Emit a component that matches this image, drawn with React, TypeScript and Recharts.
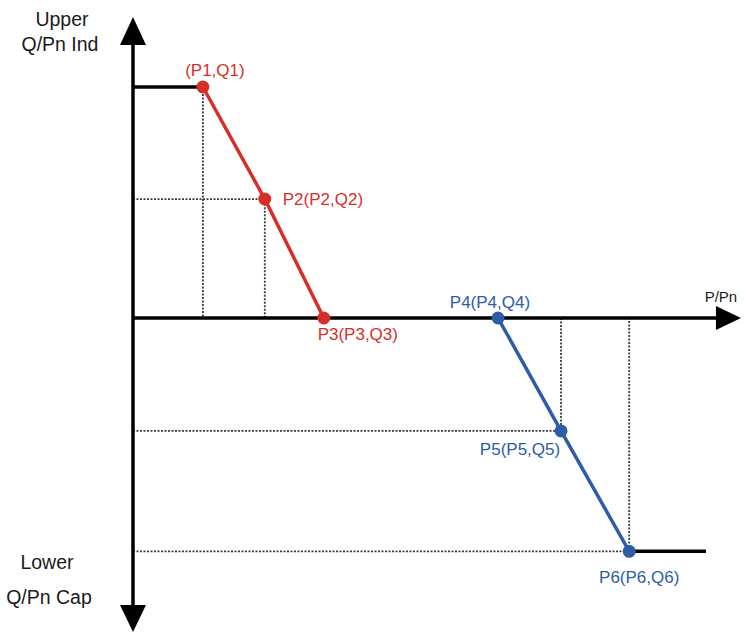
import React from 'react';
import { LineChart, Line, XAxis, YAxis, ReferenceDot } from 'recharts';

const W = 748;
const H = 634;
const FONT = '"Liberation Sans", Arial, Helvetica, sans-serif';

// P/Pn (% of Pn) and Q/Pn (%)
const redP = [12.2, 23.0, 33.3];
const redQ = [100, 51.5, 0];
const redLabels = ['(P1,Q1)', 'P2(P2,Q2)', 'P3(P3,Q3)'];
const blueP = [63.7, 74.7, 86.6];
const blueQ = [0, -48.9, -101];
const blueLabels = ['P4(P4,Q4)', 'P5(P5,Q5)', 'P6(P6,Q6)'];
const limitP = [0, 100]; // start of upper limit line, end of lower limit line
const axisP = [0, 106.1]; // origin, P axis arrow tip
const axisQ = [130.3, -135.9]; // Q axis arrow tips (upper, lower)

const X_DOMAIN = [-23.21, 107.33];
const Y_DOMAIN = [-136.8, 137.66];

const RED = '#d62f29';
const BLUE = '#2e5ca6';
const DOT_GREY = '#3a3a3a';

const redData = redP.map((p, i) => ({ p, q: redQ[i], label: redLabels[i] }));
const blueData = blueP.map((p, i) => ({ p, q: blueQ[i], label: blueLabels[i] }));

const dotted1 = [
  { p: redP[0], q: redQ[0] },
  { p: redP[0], q: 0 },
];
const dotted2 = [
  { p: 0, q: redQ[1] },
  { p: redP[1], q: redQ[1] },
  { p: redP[1], q: 0 },
];
const dotted3 = [
  { p: 0, q: blueQ[1] },
  { p: blueP[1], q: blueQ[1] },
  { p: blueP[1], q: 0 },
];
const dotted4 = [
  { p: 0, q: blueQ[2] },
  { p: blueP[2], q: blueQ[2] },
  { p: blueP[2], q: 0 },
];
const upperLimit = [
  { p: limitP[0], q: redQ[0] },
  { p: redP[0], q: redQ[0] },
];
const lowerLimit = [
  { p: blueP[2], q: blueQ[2] },
  { p: limitP[1], q: blueQ[2] },
];
const vAxis = [
  { p: axisP[0], q: axisQ[0] - 5 },
  { p: axisP[0], q: axisQ[1] + 5 },
];
const hAxis = [
  { p: axisP[0], q: 0 },
  { p: axisP[1] - 3, q: 0 },
];

type Off = { dx: number; dy: number; anchor: 'start' | 'middle' | 'end' };
const redOffsets: Off[] = [
  { dx: 12, dy: -16, anchor: 'middle' },
  { dx: 18, dy: 0, anchor: 'start' },
  { dx: 34, dy: 17, anchor: 'middle' },
];
const blueOffsets: Off[] = [
  { dx: -8, dy: -15, anchor: 'middle' },
  { dx: -41, dy: 19, anchor: 'middle' },
  { dx: 10, dy: 26, anchor: 'middle' },
];

function makeDot(color: string, offsets: Off[]) {
  return (props: any) => {
    const { cx, cy, index, payload } = props;
    const o = offsets[index];
    return (
      <g key={`dot-${color}-${index}`}>
        <circle cx={cx} cy={cy} r={6.5} fill={color} />
        <text
          x={cx + o.dx}
          y={cy + o.dy}
          textAnchor={o.anchor}
          dominantBaseline="central"
          fill={color}
          fontSize={17}
          fontFamily={FONT}
        >
          {payload.label}
        </text>
      </g>
    );
  };
}

const textStyle = { fontFamily: FONT, fill: '#1a1a1a' };

const upArrow = (props: any) => {
  const { cx, cy } = props;
  return (
    <g>
      <polygon points={`${cx},${cy} ${cx - 13},${cy + 28} ${cx + 13},${cy + 28}`} fill="#000" />
      <text x={cx - 71} y={cy + 2} textAnchor="middle" dominantBaseline="central" fontSize={19.5} style={textStyle}>
        Upper
      </text>
      <text x={cx - 73} y={cy + 26.5} textAnchor="middle" dominantBaseline="central" fontSize={19.5} style={textStyle}>
        Q/Pn Ind
      </text>
    </g>
  );
};

const downArrow = (props: any) => {
  const { cx, cy } = props;
  return (
    <g>
      <polygon points={`${cx},${cy} ${cx - 13},${cy - 27} ${cx + 13},${cy - 27}`} fill="#000" />
      <text x={cx - 86} y={cy - 70} textAnchor="middle" dominantBaseline="central" fontSize={19.5} style={textStyle}>
        Lower
      </text>
      <text x={cx - 84} y={cy - 35} textAnchor="middle" dominantBaseline="central" fontSize={19.5} style={textStyle}>
        Q/Pn Cap
      </text>
    </g>
  );
};

const rightArrow = (props: any) => {
  const { cx, cy } = props;
  return (
    <g>
      <polygon points={`${cx},${cy} ${cx - 25},${cy - 12} ${cx - 25},${cy + 12}`} fill="#000" />
      <text x={cx - 20} y={cy - 21} textAnchor="middle" dominantBaseline="central" fontSize={15} style={textStyle}>
        P/Pn
      </text>
    </g>
  );
};

export default function App() {
  return (
    <div style={{ position: 'absolute', left: 0, top: 0, width: W, height: H, background: '#fff' }}>
      <LineChart width={W} height={H} margin={{ top: 0, right: 0, bottom: 0, left: 0 }}>
        <XAxis dataKey="p" type="number" domain={X_DOMAIN} allowDataOverflow hide />
        <YAxis dataKey="q" type="number" domain={Y_DOMAIN} allowDataOverflow hide />

        {[dotted1, dotted2, dotted3, dotted4].map((d, i) => (
          <Line
            key={`dotted-${i}`}
            data={d}
            dataKey="q"
            type="linear"
            stroke={DOT_GREY}
            strokeWidth={1.8}
            strokeDasharray="2 1.5"
            dot={false}
            activeDot={false}
            isAnimationActive={false}
          />
        ))}

        <Line data={vAxis} dataKey="q" type="linear" stroke="#000" strokeWidth={3.5} dot={false} activeDot={false} isAnimationActive={false} />
        <Line data={hAxis} dataKey="q" type="linear" stroke="#000" strokeWidth={3.5} dot={false} activeDot={false} isAnimationActive={false} />
        <Line data={upperLimit} dataKey="q" type="linear" stroke="#000" strokeWidth={3.5} dot={false} activeDot={false} isAnimationActive={false} />
        <Line data={lowerLimit} dataKey="q" type="linear" stroke="#000" strokeWidth={3.5} dot={false} activeDot={false} isAnimationActive={false} />

        <Line
          data={redData}
          dataKey="q"
          type="linear"
          stroke={RED}
          strokeWidth={3.5}
          dot={makeDot(RED, redOffsets)}
          activeDot={false}
          isAnimationActive={false}
        />
        <Line
          data={blueData}
          dataKey="q"
          type="linear"
          stroke={BLUE}
          strokeWidth={3.5}
          dot={makeDot(BLUE, blueOffsets)}
          activeDot={false}
          isAnimationActive={false}
        />

        <ReferenceDot x={axisP[0]} y={axisQ[0]} shape={upArrow} ifOverflow="visible" />
        <ReferenceDot x={axisP[0]} y={axisQ[1]} shape={downArrow} ifOverflow="visible" />
        <ReferenceDot x={axisP[1]} y={0} shape={rightArrow} ifOverflow="visible" />
      </LineChart>
    </div>
  );
}
